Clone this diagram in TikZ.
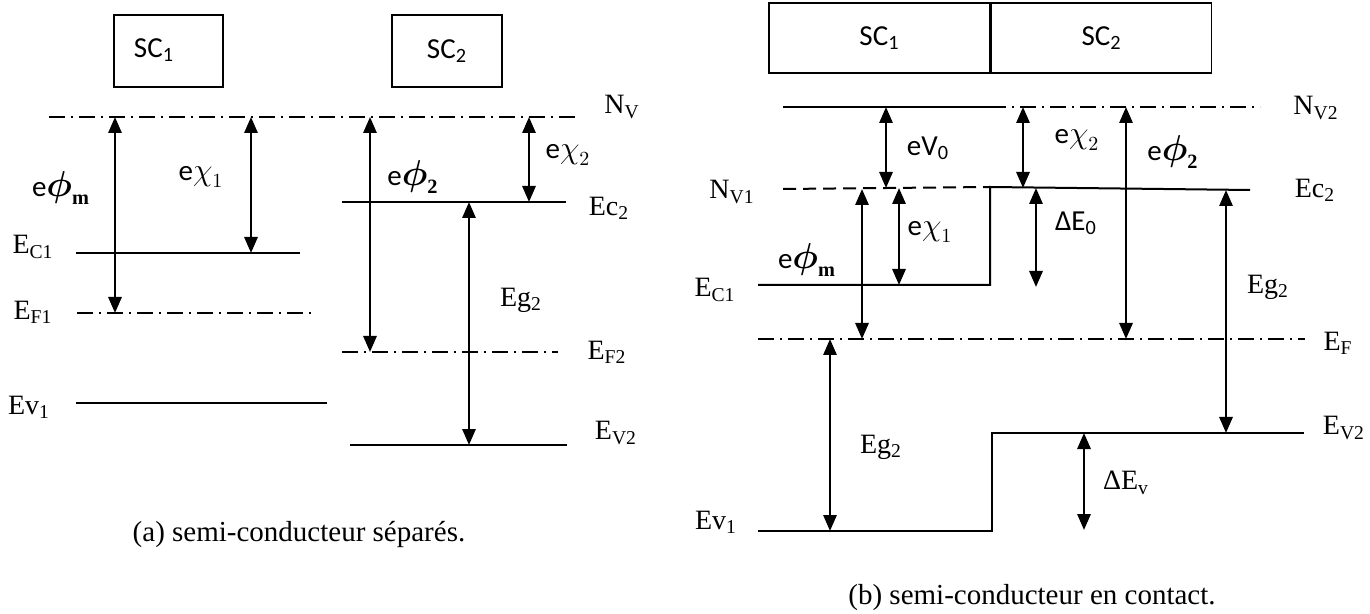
\documentclass[tikz,border=0pt]{standalone}
\usepackage{amsmath}
\usepackage{bm}
\usepackage{fontspec}
\setmainfont{Liberation Serif}
\newfontfamily\calib{Carlito}
\usetikzlibrary{arrows.meta,positioning}
\tikzset{
  >={Triangle[length=8pt,width=6.6pt]},
  level/.style={line width=1pt},
  fermi/.style={level,dash pattern=on 8pt off 3pt on 1pt off 3pt},  % dash-dot level
  vide/.style={level,dash pattern=on 6.5pt off 3.5pt},               % dashed level
  gaparr/.style={<->,line width=1.2pt},
  lab/.style={font=\fontsize{14}{16}\selectfont,inner sep=0pt},           % Times labels
  slab/.style={font=\calib\fontsize{14.5}{16}\selectfont,inner sep=0pt},  % Calibri labels
  scbox/.style={draw,line width=0.8pt,font=\calib\fontsize{14.5}{16}\selectfont},
  capt/.style={font=\fontsize{14.5}{17}\selectfont,inner sep=0pt},
}
\newcommand{\ephi}[1]{{\calib e}$\scalebox{1.25}{$\bm{\phi}$}_{\mathbf{#1}}$}
\newcommand{\echi}[1]{{\calib e}$\scalebox{1.1}{$\chi$}_{#1}$}
\begin{document}
\begin{tikzpicture}[x=0.5pt,y=-0.5pt]
  \useasboundingbox (0,0) rectangle (1370,614);

  % ---------------- (a) semi-conducteurs separes ----------------
  \node[scbox,minimum width=54.5pt,minimum height=36pt] (boxA1) at (168.5,51) {};
  \node[slab] (scA1) at (154,50) {SC\textsubscript{1}};
  \node[scbox,minimum width=55pt,minimum height=36pt] (boxA2) at (447,51) {SC\textsubscript{2}};

  % levels
  \coordinate (nvL) at (49,117);   \coordinate (nvR) at (576,117);
  \coordinate (ec1L) at (76,253);  \coordinate (ec1R) at (300,253);
  \coordinate (ef1L) at (77,313);  \coordinate (ef1R) at (313,313);
  \coordinate (ev1L) at (76,403);  \coordinate (ev1R) at (327,403);
  \coordinate (ec2L) at (342,202); \coordinate (ec2R) at (566,202);
  \coordinate (ef2L) at (342,352); \coordinate (ef2R) at (558,352);
  \coordinate (ev2L) at (350,445); \coordinate (ev2R) at (567,445);
  \draw[fermi] (nvL) -- (nvR);
  \draw[level] (ec1L) -- (ec1R);
  \draw[fermi] (ef1L) -- (ef1R);
  \draw[level] (ev1L) -- (ev1R);
  \draw[level] (ec2L) -- (ec2R);
  \draw[fermi] (ef2L) -- (ef2R);
  \draw[level] (ev2L) -- (ev2R);

  % energy gaps (name/x/top/bottom)
  \foreach \nm/\xx/\ya/\yb in {phimA/115/117/313, chiA1/251/117/253,
      phiA2/370/117/352, chiA2/529/117/202, egA2/469/202/445}{
    \coordinate (\nm t) at (\xx,\ya);
    \coordinate (\nm b) at (\xx,\yb);
    \draw[gaparr] (\nm t) -- (\nm b);
  }

  % labels
  \node[lab]  (lNv)   at (622,107) {N\textsubscript{V}};
  \node[slab] (lPhmA) at (61,188)  {\ephi{m}};
  \node[slab] (lChA1) at (201,177) {\echi{1}};
  \node[lab]  (lEc1)  at (33,247)  {E\textsubscript{C1}};
  \node[slab] (lPhA2) at (413,177) {\ephi{2}};
  \node[slab] (lChA2) at (568,155) {\echi{2}};
  \node[lab]  (lEc2)  at (609,208) {Ec\textsubscript{2}};
  \node[lab]  (lEgA)  at (521,300) {Eg\textsubscript{2}};
  \node[lab]  (lEf1)  at (33,312)  {E\textsubscript{F1}};
  \node[lab]  (lEf2)  at (607,352) {E\textsubscript{F2}};
  \node[lab]  (lEv1)  at (29,407)  {Ev\textsubscript{1}};
  \node[lab]  (lEv2)  at (616,433) {E\textsubscript{V2}};
  \node[capt] (captA) at (299,535) {(a) semi-conducteur séparés.};

  % ---------------- (b) semi-conducteurs en contact ----------------
  \node[scbox,minimum width=110.5pt,minimum height=35pt] (cellB1) at (879.5,38) {SC\textsubscript{1}};
  \node[scbox,minimum width=110pt,minimum height=35pt,right=0pt of cellB1] (cellB2) {SC\textsubscript{2}};

  % levels
  \coordinate (vacL) at (783,107);  \coordinate (vacM) at (990,107);
  \coordinate (nv2R) at (1260,107);
  \coordinate (nv1L) at (783,189);  \coordinate (nv1R) at (990,187);
  \coordinate (ecbL) at (758,285);  \coordinate (ecbM) at (990,285);
  \coordinate (ecbR) at (1250,190);
  \coordinate (efL)  at (758,339);  \coordinate (efR)  at (1305,339);
  \coordinate (evbL) at (758,531);  \coordinate (evbM) at (992,531);
  \coordinate (evbN) at (992,433);  \coordinate (evbR) at (1304,433);
  \draw[level] (vacL) -- (vacM);
  \draw[fermi] (vacM) -- (nv2R);
  \draw[vide]  (nv1L) -- (nv1R);
  \draw[level] (ecbL) -- (ecbM) -- (nv1R) -- (ecbR);
  \draw[fermi] (efL) -- (efR);
  \draw[level] (evbL) -- (evbM) -- (evbN) -- (evbR);

  \foreach \nm/\xx/\ya/\yb in {eV/886/107/188, chiB2/1023/107/188,
      phiB2/1126/107/339, phimB/862/189/339, chiB1/899/188/285,
      dEo/1036/188/287, egBr/1226/190/433, egBl/830/339/531, dEv/1084/433/530}{
    \coordinate (\nm t) at (\xx,\ya);
    \coordinate (\nm b) at (\xx,\yb);
    \draw[gaparr] (\nm t) -- (\nm b);
  }

  % labels
  \node[lab]  (lNv2)  at (1316,108) {N\textsubscript{V2}};
  \node[slab] (lV0)   at (928,148)  {eV\textsubscript{0}};
  \node[slab] (lChB2) at (1077,140) {\echi{2}};
  \node[slab] (lPhB2) at (1173,152) {\ephi{2}};
  \node[lab]  (lNv1)  at (732,192)  {N\textsubscript{V1}};
  \node[lab]  (lEcB2) at (1315,190) {Ec\textsubscript{2}};
  \node[slab] (lChB1) at (930,232)  {\echi{1}};
  \node[slab] (lDE0)  at (1076,223) {ΔE\textsubscript{0}};
  \node[slab] (lPhmB) at (807,260)  {\ephi{m}};
  \node[lab]  (lEcB1) at (715,290)  {E\textsubscript{C1}};
  \node[lab]  (lEgBr) at (1268,287) {Eg\textsubscript{2}};
  \node[lab]  (lEf)   at (1338,343) {E\textsubscript{F}};
  \node[lab]  (lEgBl) at (881,447)  {Eg\textsubscript{2}};
  \node[lab]  (lEvB2) at (1344,428) {E\textsubscript{V2}};
  \node[lab]  (lDEv)  at (1126,483) {ΔE\textsubscript{v}};
  \node[lab]  (lEvB1) at (716,522)  {Ev\textsubscript{1}};
  \node[capt] (captB) at (1032,598) {(b) semi-conducteur en contact.};
\end{tikzpicture}
\end{document}
